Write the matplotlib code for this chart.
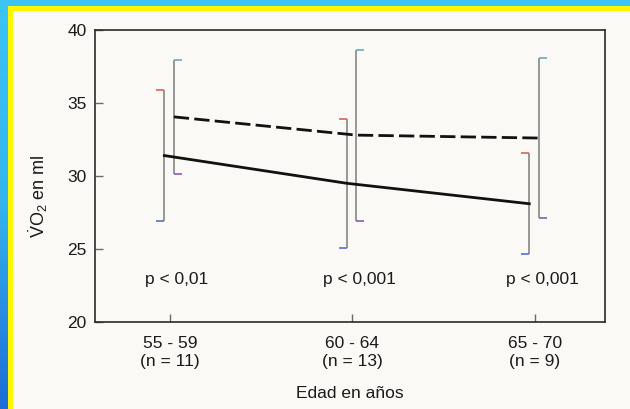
import numpy as np
import matplotlib
matplotlib.use("Agg")
import matplotlib.pyplot as plt
from matplotlib.path import Path
from matplotlib.patches import Rectangle

plt.rcParams['font.family'] = ['Liberation Sans', 'DejaVu Sans']
plt.rcParams['mathtext.fontset'] = 'custom'
plt.rcParams['mathtext.rm'] = 'Liberation Sans'
plt.rcParams['mathtext.it'] = 'Liberation Sans:italic'

# data
groups = ['55 - 59', '60 - 64', '65 - 70']
n_subj = [11, 13, 9]
solid_mean = [31.4, 29.5, 28.1]
solid_sd = [4.5, 4.4, 3.45]
dashed_mean = [34.05, 32.8, 32.6]
dashed_sd = [3.9, 5.85, 5.5]
p_text = ['p < 0,01', 'p < 0,001', 'p < 0,001']
y_ticks = [20, 25, 30, 35, 40]

W, H = 630, 409
fig = plt.figure(figsize=(W / 100, H / 100), dpi=100)

# scanned page background: blue frame, yellow border, white page
bg = fig.add_axes([0, 0, 1, 1], zorder=-10)
bg.set_xlim(0, W)
bg.set_ylim(H, 0)
bg.axis('off')
grad = np.linspace(0, 1, 256).reshape(-1, 1)
blues = matplotlib.colors.LinearSegmentedColormap.from_list('b', ['#3cc4f4', '#35b4ee', '#1d6cd6'])
bg.imshow(grad, cmap=blues, extent=[0, W, H, 0], aspect='auto')
bg.add_patch(Rectangle((8, 6), W, H, color='#fff700', lw=0))
bg.add_patch(Rectangle((13, 11), W, H, color='#faf9f6', lw=0))

ax = fig.add_axes([95 / W, 1 - 322 / H, 510 / W, 292 / H])
ax.set_facecolor('none')

x = np.arange(1, len(groups) + 1)
xs = x - 0.03
xd = x + 0.022
grey = '#7c7c7c'

right_cap = Path([(0, 0), (1, 0)])
left_cap = Path([(-1, 0), (0, 0)])

# error bars (one-sided caps)
s_m, s_sd = np.array(solid_mean), np.array(solid_sd)
d_m, d_sd = np.array(dashed_mean), np.array(dashed_sd)
ax.vlines(xs, s_m - s_sd, s_m + s_sd, color=grey, lw=1.1, zorder=2)
ax.vlines(xd, d_m - d_sd, d_m + d_sd, color=grey, lw=1.1, zorder=2)
ax.plot(xs, s_m + s_sd, ls='none', marker=left_cap, ms=11, mew=1.2, mec='#d06a50', mfc='none', zorder=2)
ax.plot(xs, s_m - s_sd, ls='none', marker=left_cap, ms=11, mew=1.2, mec='#5a70c8', mfc='none', zorder=2)
ax.plot(xd, d_m + d_sd, ls='none', marker=right_cap, ms=11, mew=1.2, mec='#6aaab8', mfc='none', zorder=2)
ax.plot(xd, d_m - d_sd, ls='none', marker=right_cap, ms=11, mew=1.2, mec='#8a5cb8', mfc='none', zorder=2)

# mean lines
ax.plot(xs, s_m, color='#111111', lw=2.0, zorder=3)
ax.plot(xd, d_m, color='#111111', lw=2.0, ls=(0, (5.5, 1.9)), zorder=3)

for xi, t in zip(x, p_text):
    ax.text(xi + 0.04, 22.9, t, ha='center', va='center', fontsize=12.5, color='#1a1a1a')

ax.set_xlim(0.59, 3.385)
ax.set_ylim(20, 40)
ax.set_yticks(y_ticks)
ax.set_xticks(x)
ax.set_xticklabels([f'{g}\n(n = {n})' for g, n in zip(groups, n_subj)], linespacing=1.3)
ax.tick_params(axis='both', direction='in', length=6, width=1, colors='#6a6a6a',
               labelcolor='#1a1a1a', labelsize=12.5)
ax.tick_params(axis='x', pad=10)
ax.tick_params(axis='y', pad=6)
tick_cols = ['#6a6a6a', '#30b0e0', '#c050a0', '#e06060', '#6a6a6a']
for tl, c in zip(ax.yaxis.get_major_ticks(), tick_cols):
    tl.tick1line.set_color(c)

for s in ax.spines.values():
    s.set_color('#2a2a2a')
    s.set_linewidth(1.2)

ax.set_xlabel('Edad en años', fontsize=12.5, color='#1a1a1a', labelpad=12)
ax.set_ylabel(r'$\dot{\mathrm{V}}\mathrm{O}_2$ en ml', fontsize=13, color='#1a1a1a')
ax.yaxis.set_label_coords(-0.088, 0.43)

fig.savefig('out.png', dpi=100)
